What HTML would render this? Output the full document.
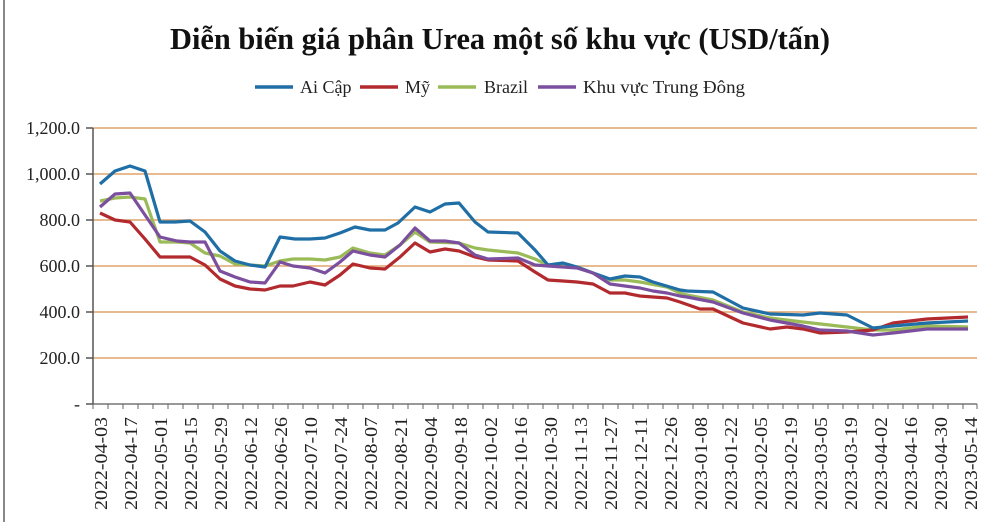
<!DOCTYPE html>
<html><head><meta charset="utf-8"><style>
body{margin:0;background:#fff;width:1000px;height:522px;overflow:hidden}
svg text{font-family:"Liberation Serif",serif}
</style></head><body>
<svg width="1000" height="522" viewBox="0 0 1000 522" xmlns="http://www.w3.org/2000/svg">
<line x1="4" y1="0" x2="4" y2="522" stroke="#888" stroke-width="2"/>
<text x="500" y="49" text-anchor="middle" font-size="31" font-weight="bold" fill="#111" textLength="660" lengthAdjust="spacingAndGlyphs">Diễn biến giá phân Urea một số khu vực (USD/tấn)</text>
<g font-size="18" fill="#222">
<line x1="255" y1="87" x2="293" y2="87" stroke="#1f6fa6" stroke-width="3.5"/><text x="300" y="93">Ai Cập</text>
<line x1="360" y1="87" x2="398" y2="87" stroke="#b22a2e" stroke-width="3.5"/><text x="405" y="93">Mỹ</text>
<line x1="438" y1="87" x2="476" y2="87" stroke="#9bbb59" stroke-width="3.5"/><text x="484" y="93">Brazil</text>
<line x1="538" y1="87" x2="576" y2="87" stroke="#7b4f9e" stroke-width="3.5"/><text x="583" y="93" textLength="162" lengthAdjust="spacingAndGlyphs">Khu vực Trung Đông</text>
</g>
<g stroke="#e0a36a" stroke-width="1.5">
<line x1="93" y1="128" x2="977" y2="128"/><line x1="93" y1="174" x2="977" y2="174"/><line x1="93" y1="220" x2="977" y2="220"/><line x1="93" y1="266" x2="977" y2="266"/><line x1="93" y1="312" x2="977" y2="312"/><line x1="93" y1="358" x2="977" y2="358"/>
</g>
<line x1="93" y1="404" x2="977" y2="404" stroke="#777" stroke-width="1.5"/>
<line x1="93" y1="128" x2="93" y2="404" stroke="#555" stroke-width="1.5"/>
<g stroke="#555" stroke-width="1.5"><line x1="86" y1="128" x2="93" y2="128"/><line x1="86" y1="174" x2="93" y2="174"/><line x1="86" y1="220" x2="93" y2="220"/><line x1="86" y1="266" x2="93" y2="266"/><line x1="86" y1="312" x2="93" y2="312"/><line x1="86" y1="358" x2="93" y2="358"/><line x1="86" y1="404" x2="93" y2="404"/></g>
<g id="xt" stroke="#666" stroke-width="1"></g>
<g font-size="18" fill="#222" text-anchor="end">
<text x="80" y="134">1,200.0</text><text x="80" y="180">1,000.0</text><text x="80" y="226">800.0</text><text x="80" y="272">600.0</text><text x="80" y="318">400.0</text><text x="80" y="364">200.0</text><text x="80" y="410">-</text>
</g>
<g fill="none" stroke-width="3.2" stroke-linejoin="round">
<polyline stroke="#9bbb59" points="100,201 115,198 130,197 145,199 160,242 177,242 190,243 205,253 220,256 235,264 265,266 280,261 293,259 310,259 325,260 340,257 353,248 370,253 385,255 400,245 415,232 430,242 459,243 475,248 488,250 518,253 535,259 548,265 577,267 593,273 610,280 625,280 640,282 667,287 680,293 687,295 713,300 743,312 770,318 803,322 847,327 873,330 893,330 927,326 968,327"/>
<polyline stroke="#b22a2e" points="100,213 115,220 130,222 145,239 160,257 190,257 205,265 220,279 235,286 250,289 265,290 280,286 293,286 310,282 325,285 340,275 353,264 370,268 385,269 400,257 415,243 430,252 445,249 459,251 475,257 488,260 518,261 535,272 548,280 563,281 577,282 593,284 610,293 625,293 640,296 653,297 667,298 680,302 700,309 713,309 743,323 770,329 787,327 803,329 820,333 847,332 873,330 893,323 927,319 968,317"/>
<polyline stroke="#1f6fa6" points="100,184 115,171 130,166 145,171 160,222 175,222 190,221 205,232 220,251 235,261 250,265 265,267 280,237 295,239 310,239 325,238 340,233 355,227 370,230 385,230 398,223 415,207 430,212 445,204 459,203 475,222 488,232 518,233 535,250 548,265 563,263 577,267 593,273 610,279 625,276 640,277 653,282 680,290 687,291 713,292 743,308 770,314 803,315 820,313 847,315 873,328 893,326 927,323 968,321"/>
<polyline stroke="#7b4f9e" points="100,207 115,194 130,193 145,215 160,237 177,241 190,242 205,242 220,271 235,277 250,282 265,283 280,262 293,266 310,268 325,273 340,262 353,251 370,255 385,257 400,245 415,228 430,241 445,241 459,243 475,255 488,259 518,258 535,265 548,266 563,267 577,268 593,273 610,284 625,286 640,288 653,291 667,293 680,296 687,297 713,302 743,313 770,320 803,326 820,330 847,331 873,335 893,333 927,329 968,329"/>
</g>
<g stroke="#666" stroke-width="1">
<path d="M93,404v5M108,404v5M123,404v5M138,404v5M153,404v5M168,404v5M183,404v5M198,404v5M213,404v5M228,404v5M243,404v5M258,404v5M273,404v5M288,404v5M303,404v5M318,404v5M333,404v5M348,404v5M363,404v5M378,404v5M393,404v5M408,404v5M423,404v5M438,404v5M453,404v5M468,404v5M483,404v5M498,404v5M513,404v5M528,404v5M543,404v5M558,404v5M573,404v5M588,404v5M603,404v5M618,404v5M633,404v5M648,404v5M663,404v5M678,404v5M693,404v5M708,404v5M723,404v5M738,404v5M753,404v5M768,404v5M783,404v5M798,404v5M813,404v5M828,404v5M843,404v5M858,404v5M873,404v5M888,404v5M903,404v5M918,404v5M933,404v5M948,404v5M963,404v5M977,404v5"/>
</g>
<g font-size="18" fill="#222" text-anchor="end">
<text transform="translate(107,417) rotate(-90)" textLength="93" lengthAdjust="spacingAndGlyphs">2022-04-03</text>
<text transform="translate(137,417) rotate(-90)" textLength="93" lengthAdjust="spacingAndGlyphs">2022-04-17</text>
<text transform="translate(167,417) rotate(-90)" textLength="93" lengthAdjust="spacingAndGlyphs">2022-05-01</text>
<text transform="translate(197,417) rotate(-90)" textLength="93" lengthAdjust="spacingAndGlyphs">2022-05-15</text>
<text transform="translate(227,417) rotate(-90)" textLength="93" lengthAdjust="spacingAndGlyphs">2022-05-29</text>
<text transform="translate(257,417) rotate(-90)" textLength="93" lengthAdjust="spacingAndGlyphs">2022-06-12</text>
<text transform="translate(287,417) rotate(-90)" textLength="93" lengthAdjust="spacingAndGlyphs">2022-06-26</text>
<text transform="translate(317,417) rotate(-90)" textLength="93" lengthAdjust="spacingAndGlyphs">2022-07-10</text>
<text transform="translate(347,417) rotate(-90)" textLength="93" lengthAdjust="spacingAndGlyphs">2022-07-24</text>
<text transform="translate(377,417) rotate(-90)" textLength="93" lengthAdjust="spacingAndGlyphs">2022-08-07</text>
<text transform="translate(407,417) rotate(-90)" textLength="93" lengthAdjust="spacingAndGlyphs">2022-08-21</text>
<text transform="translate(437,417) rotate(-90)" textLength="93" lengthAdjust="spacingAndGlyphs">2022-09-04</text>
<text transform="translate(467,417) rotate(-90)" textLength="93" lengthAdjust="spacingAndGlyphs">2022-09-18</text>
<text transform="translate(497,417) rotate(-90)" textLength="93" lengthAdjust="spacingAndGlyphs">2022-10-02</text>
<text transform="translate(527,417) rotate(-90)" textLength="93" lengthAdjust="spacingAndGlyphs">2022-10-16</text>
<text transform="translate(557,417) rotate(-90)" textLength="93" lengthAdjust="spacingAndGlyphs">2022-10-30</text>
<text transform="translate(587,417) rotate(-90)" textLength="93" lengthAdjust="spacingAndGlyphs">2022-11-13</text>
<text transform="translate(617,417) rotate(-90)" textLength="93" lengthAdjust="spacingAndGlyphs">2022-11-27</text>
<text transform="translate(647,417) rotate(-90)" textLength="93" lengthAdjust="spacingAndGlyphs">2022-12-11</text>
<text transform="translate(677,417) rotate(-90)" textLength="93" lengthAdjust="spacingAndGlyphs">2022-12-26</text>
<text transform="translate(707,417) rotate(-90)" textLength="93" lengthAdjust="spacingAndGlyphs">2023-01-08</text>
<text transform="translate(737,417) rotate(-90)" textLength="93" lengthAdjust="spacingAndGlyphs">2023-01-22</text>
<text transform="translate(767,417) rotate(-90)" textLength="93" lengthAdjust="spacingAndGlyphs">2023-02-05</text>
<text transform="translate(797,417) rotate(-90)" textLength="93" lengthAdjust="spacingAndGlyphs">2023-02-19</text>
<text transform="translate(827,417) rotate(-90)" textLength="93" lengthAdjust="spacingAndGlyphs">2023-03-05</text>
<text transform="translate(857,417) rotate(-90)" textLength="93" lengthAdjust="spacingAndGlyphs">2023-03-19</text>
<text transform="translate(887,417) rotate(-90)" textLength="93" lengthAdjust="spacingAndGlyphs">2023-04-02</text>
<text transform="translate(917,417) rotate(-90)" textLength="93" lengthAdjust="spacingAndGlyphs">2023-04-16</text>
<text transform="translate(947,417) rotate(-90)" textLength="93" lengthAdjust="spacingAndGlyphs">2023-04-30</text>
<text transform="translate(977,417) rotate(-90)" textLength="93" lengthAdjust="spacingAndGlyphs">2023-05-14</text>
</g>
</svg>
</body></html>
